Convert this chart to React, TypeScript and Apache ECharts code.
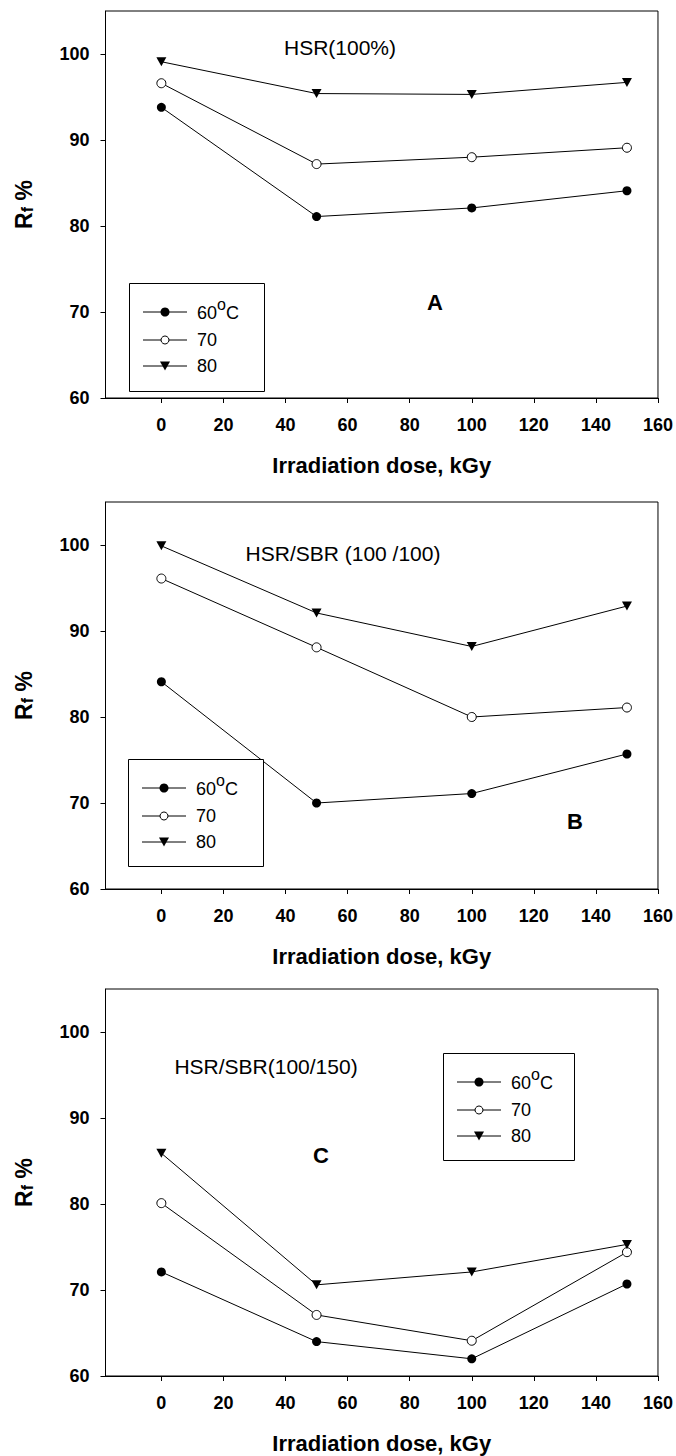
import React, { useEffect, useRef } from "react";
import * as echarts from "echarts";

// ---------------- data ----------------
const doses = [0, 50, 100, 150];
const xTicks = [0, 20, 40, 60, 80, 100, 120, 140, 160];
const yTicks = [60, 70, 80, 90, 100];
const tempNames = ["60", "70", "80"];

const panelA60 = [93.8, 81.1, 82.1, 84.1];
const panelA70 = [96.6, 87.2, 88.0, 89.1];
const panelA80 = [99.1, 95.4, 95.3, 96.7];

const panelB60 = [84.1, 70.0, 71.1, 75.7];
const panelB70 = [96.1, 88.1, 80.0, 81.1];
const panelB80 = [99.9, 92.1, 88.2, 92.9];

const panelC60 = [72.1, 64.0, 62.0, 70.7];
const panelC70 = [80.1, 67.1, 64.1, 74.4];
const panelC80 = [85.9, 70.6, 72.1, 75.3];

const panelTitles = ["HSR(100%)", "HSR/SBR (100 /100)", "HSR/SBR(100/150)"];
const panelLetters = ["A", "B", "C"];
const xAxisTitle = "Irradiation dose, kGy";
const legendTexts = ["{b|60}{sup|o}{b|C}", "{c|70}", "{c|80}"];

const panels = [
  [panelA60, panelA70, panelA80],
  [panelB60, panelB70, panelB80],
  [panelC60, panelC70, panelC80],
];

// ---------------- layout ----------------
const FONT = "'Liberation Sans', Arial, Helvetica, sans-serif";
const GRID_LEFT = 105.5;
const GRID_WIDTH = 552.5;
const GRID_HEIGHT = 387;
const GRID_TOPS = [11, 502, 989];
const TITLE_POS = [
  [340, 47],
  [343, 553],
  [266, 1066],
];
const LETTER_POS = [
  [435, 302],
  [575, 821],
  [321, 1155],
];
const LEGEND_BOX = [
  [129, 283, 135, 108],
  [128, 759, 135, 107],
  [443, 1053, 131, 107],
];
const LEGEND_ROWS = [29, 57, 83];

function buildOption() {
  const grid: any[] = [];
  const xAxis: any[] = [];
  const yAxis: any[] = [];
  const series: any[] = [];
  const graphic: any[] = [];

  panels.forEach((panel, i) => {
    grid.push({
      left: GRID_LEFT,
      top: GRID_TOPS[i],
      width: GRID_WIDTH,
      height: GRID_HEIGHT,
      show: true,
      borderColor: "#000",
      borderWidth: 1,
      backgroundColor: "transparent",
    });
    xAxis.push({
      type: "value",
      gridIndex: i,
      min: -18,
      max: 160,
      name: xAxisTitle,
      nameLocation: "middle",
      nameGap: 56,
      nameTextStyle: { fontFamily: FONT, fontWeight: "bold", fontSize: 22, color: "#000" },
      axisLine: { show: true, onZero: false, lineStyle: { color: "#000", width: 1 } },
      axisTick: { show: true, inside: false, length: 5, customValues: xTicks, lineStyle: { color: "#000" } },
      axisLabel: {
        show: true,
        customValues: xTicks,
        margin: 18,
        fontFamily: FONT,
        fontWeight: "bold",
        fontSize: 18,
        color: "#000",
      },
      splitLine: { show: false },
    });
    yAxis.push({
      type: "value",
      gridIndex: i,
      min: 60,
      max: 105,
      axisLine: { show: true, onZero: false, lineStyle: { color: "#000", width: 1 } },
      axisTick: { show: true, inside: false, length: 5, customValues: yTicks, lineStyle: { color: "#000" } },
      axisLabel: {
        show: true,
        customValues: yTicks,
        margin: 16,
        fontFamily: FONT,
        fontWeight: "bold",
        fontSize: 18,
        color: "#000",
      },
      splitLine: { show: false },
    });

    panel.forEach((vals, k) => {
      const base: any = {
        type: "line",
        name: tempNames[k],
        xAxisIndex: i,
        yAxisIndex: i,
        data: doses.map((d, j) => [d, vals[j]]),
        lineStyle: { color: "#000", width: 1 },
        z: 3,
      };
      if (k === 0) {
        base.symbol = "circle";
        base.symbolSize = 9;
        base.itemStyle = { color: "#000", borderColor: "#000", borderWidth: 0 };
      } else if (k === 1) {
        base.symbol = "circle";
        base.symbolSize = 9;
        base.itemStyle = { color: "#fff", borderColor: "#000", borderWidth: 1 };
      } else {
        base.symbol = "triangle";
        base.symbolRotate = 180;
        base.symbolSize = [10, 9];
        base.itemStyle = { color: "#000", borderWidth: 0 };
      }
      series.push(base);
    });

    // y axis title
    graphic.push({
      type: "text",
      x: 23.5,
      y: GRID_TOPS[i] + GRID_HEIGHT / 2,
      rotation: Math.PI / 2,
      style: {
        text: "{b|R}{s|f}{b| %}",
        align: "center",
        verticalAlign: "middle",
        fill: "#000",
        rich: {
          b: { fontFamily: FONT, fontWeight: "bold", fontSize: 23, lineHeight: 23, verticalAlign: "bottom", fill: "#000" },
          s: { fontFamily: FONT, fontWeight: "bold", fontSize: 16, lineHeight: 16, verticalAlign: "bottom", fill: "#000" },
        },
      },
    });

    // panel annotation title
    graphic.push({
      type: "text",
      x: TITLE_POS[i][0],
      y: TITLE_POS[i][1],
      style: {
        text: panelTitles[i],
        font: `21px ${FONT}`,
        align: "center",
        verticalAlign: "middle",
        fill: "#000",
      },
    });
    // panel letter
    graphic.push({
      type: "text",
      x: LETTER_POS[i][0],
      y: LETTER_POS[i][1],
      style: {
        text: panelLetters[i],
        font: `bold 22px ${FONT}`,
        align: "center",
        verticalAlign: "middle",
        fill: "#000",
      },
    });

    // legend
    const [bx, by, bw, bh] = LEGEND_BOX[i];
    graphic.push({
      type: "rect",
      shape: { x: bx + 0.5, y: by + 0.5, width: bw, height: bh },
      style: { fill: "#fff", stroke: "#000", lineWidth: 1 },
      z: 10,
    });
    tempNames.forEach((_, k) => {
      const cy = by + LEGEND_ROWS[k];
      const lx0 = bx + 14;
      const lx1 = bx + 58;
      const mx = bx + 36;
      graphic.push({
        type: "line",
        shape: { x1: lx0, y1: cy, x2: lx1, y2: cy },
        style: { stroke: "#000", lineWidth: 1 },
        z: 11,
      });
      if (k === 0) {
        graphic.push({ type: "circle", shape: { cx: mx, cy, r: 4.5 }, style: { fill: "#000" }, z: 12 });
      } else if (k === 1) {
        graphic.push({
          type: "circle",
          shape: { cx: mx, cy, r: 4 },
          style: { fill: "#fff", stroke: "#000", lineWidth: 1 },
          z: 12,
        });
      } else {
        graphic.push({
          type: "polygon",
          shape: { points: [[mx - 5, cy - 4.5], [mx + 5, cy - 4.5], [mx, cy + 4.5]] },
          style: { fill: "#000" },
          z: 12,
        });
      }
      graphic.push({
        type: "text",
        x: bx + 68,
        y: k === 0 ? cy - 3 : cy,
        style: {
          text: legendTexts[k],
          align: "left",
          verticalAlign: "middle",
          fill: "#000",
          rich: {
            b: { fontFamily: FONT, fontSize: 18, lineHeight: 26, verticalAlign: "bottom", fill: "#000" },
            sup: { fontFamily: FONT, fontSize: 16, lineHeight: 14, verticalAlign: "top", fill: "#000" },
            c: { fontFamily: FONT, fontSize: 18, lineHeight: 18, verticalAlign: "middle", fill: "#000" },
          },
        },
        z: 12,
      });
    });
  });

  return {
    animation: false,
    backgroundColor: "#fff",
    grid,
    xAxis,
    yAxis,
    series,
    graphic,
  };
}

export default function App() {
  const ref = useRef<HTMLDivElement>(null);
  useEffect(() => {
    if (!ref.current) return;
    const chart = echarts.init(ref.current, null, { renderer: "svg" });
    chart.setOption(buildOption() as any);
    return () => chart.dispose();
  }, []);
  return (
    <div
      ref={ref}
      style={{ position: "absolute", left: 0, top: 0, width: 676, height: 1456, background: "#fff" }}
    />
  );
}
